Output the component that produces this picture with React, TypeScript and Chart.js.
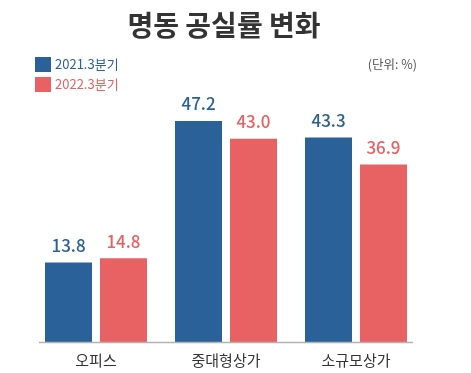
import React, { useEffect, useRef } from "react";
import { Chart, registerables } from "chart.js";

Chart.register(...registerables);

const TITLE = "명동 공실률 변화";
const UNIT = "(단위: %)";
const CATEGORIES = ["오피스", "중대형상가", "소규모상가"];
const SERIES_NAMES = ["2021.3분기", "2022.3분기"];
const VALUES_2021 = [13.8, 47.2, 43.3];
const VALUES_2022 = [14.8, 43.0, 36.9];
const COLORS = ["#2b6199", "#e86264"];

const FONT = "'Noto Sans CJK KR', 'Noto Sans', sans-serif";

const overlayPlugin = {
  id: "overlay",
  afterDatasetsDraw(chart: any) {
    const ctx = chart.ctx as CanvasRenderingContext2D;
    const xScale = chart.scales.x;
    const area = chart.chartArea;
    ctx.save();
    // axis line
    ctx.strokeStyle = "#b3b3b3";
    ctx.lineWidth = 1.5;
    ctx.beginPath();
    ctx.moveTo(39, area.bottom + 0.5);
    ctx.lineTo(413, area.bottom + 0.5);
    ctx.stroke();

    // value labels
    ctx.textAlign = "center";
    ctx.textBaseline = "middle";
    ctx.font = `500 17px ${FONT}`;
    chart.data.datasets.forEach((ds: any, di: number) => {
      const meta = chart.getDatasetMeta(di);
      meta.data.forEach((bar: any, i: number) => {
        ctx.fillStyle = COLORS[di];
        ctx.fillText(Number(ds.data[i]).toFixed(1), bar.x, bar.y - 17);
      });
    });

    // category labels
    ctx.fillStyle = "#333333";
    ctx.font = `15px ${FONT}`;
    CATEGORIES.forEach((c, i) => {
      ctx.fillText(c, xScale.getPixelForValue(i), 360);
    });

    // title
    ctx.font = `bold 28px ${FONT}`;
    ctx.fillStyle = "#333333";
    ctx.fillText(TITLE, 224, 25);

    // legend
    ctx.textAlign = "left";
    ctx.font = `13px ${FONT}`;
    SERIES_NAMES.forEach((n, i) => {
      const y = 57 + i * 20;
      ctx.fillStyle = COLORS[i];
      ctx.fillRect(35, y, 16, 15);
      ctx.fillText(n, 55, y + 7.5);
    });

    // unit
    ctx.textAlign = "right";
    ctx.font = `12.5px ${FONT}`;
    ctx.fillStyle = "#555555";
    ctx.fillText(UNIT, 417, 64.5);
    ctx.restore();
  },
};

export default function App() {
  const ref = useRef<HTMLCanvasElement>(null);
  useEffect(() => {
    if (!ref.current) return;
    const chart = new Chart(ref.current, {
      type: "bar",
      data: {
        labels: CATEGORIES,
        datasets: [
          {
            label: SERIES_NAMES[0],
            data: VALUES_2021,
            backgroundColor: COLORS[0],
            base: -5,
            categoryPercentage: 0.846,
            barPercentage: 0.855,
          },
          {
            label: SERIES_NAMES[1],
            data: VALUES_2022,
            backgroundColor: COLORS[1],
            base: -5,
            categoryPercentage: 0.846,
            barPercentage: 0.855,
          },
        ] as any,
      },
      options: {
        animation: false,
        responsive: false,
        devicePixelRatio: 1,
        layout: { padding: { top: 88, bottom: 31, left: 31, right: 50 } },
        plugins: { legend: { display: false }, title: { display: false }, tooltip: { enabled: false } },
        scales: {
          x: { display: false },
          y: { display: false, min: -5, max: 55 },
        },
      },
      plugins: [overlayPlugin],
    });
    return () => chart.destroy();
  }, []);
  return (
    <div style={{ position: "absolute", left: 0, top: 0, width: 471, height: 373, background: "#fff" }}>
      <canvas ref={ref} width={471} height={373} />
    </div>
  );
}
